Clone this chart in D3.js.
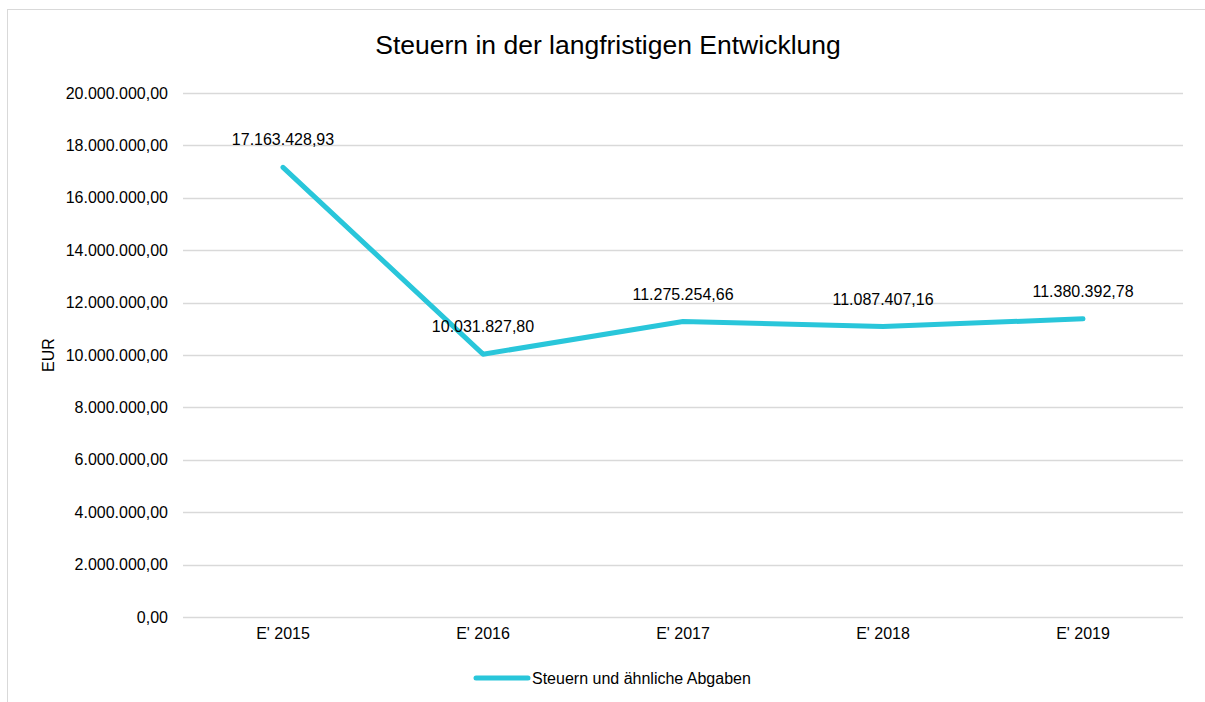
<!DOCTYPE html>
<html>
<head>
<meta charset="utf-8">
<script src="https://cdn.jsdelivr.net/npm/d3@7"></script>
<style>
  body { margin: 0; background: #fff; }
  svg, svg text { font-family: "Liberation Sans", Arial, sans-serif; }
</style>
</head>
<body>
<div id="chart"></div>
<script>
// data
const categories = ["E' 2015", "E' 2016", "E' 2017", "E' 2018", "E' 2019"];
const values = [17163428.93, 10031827.8, 11275254.66, 11087407.16, 11380392.78];
const yTicks = [0, 2e6, 4e6, 6e6, 8e6, 10e6, 12e6, 14e6, 16e6, 18e6, 20e6];
const seriesName = "Steuern und ähnliche Abgaben";

const W = 1205, H = 702;
const margin = { top: 93, right: 22, bottom: 85, left: 183 };
const lineColor = "#29c6da";

const de = d3.formatLocale({ decimal: ",", thousands: ".", grouping: [3], currency: ["", " €"] });
const fmt = de.format(",.2f");

const svg = d3.select("#chart").append("svg")
  .attr("width", W).attr("height", H);

// outer frame
svg.append("rect")
  .attr("x", 7.5).attr("y", 9.5)
  .attr("width", W).attr("height", H)
  .attr("fill", "none").attr("stroke", "#d9d9d9");

const x = d3.scaleBand().domain(categories).range([margin.left, W - margin.right]);
const y = d3.scaleLinear().domain([0, 20e6]).range([H - margin.bottom, margin.top]);

// gridlines
svg.append("g")
  .selectAll("line").data(yTicks).join("line")
  .attr("x1", margin.left).attr("x2", W - margin.right)
  .attr("y1", d => Math.round(y(d)) + 0.5).attr("y2", d => Math.round(y(d)) + 0.5)
  .attr("stroke", "#d9d9d9").attr("stroke-width", 1.5);

// y axis labels
const yAxis = svg.append("g")
  .attr("transform", `translate(${margin.left},0)`)
  .call(d3.axisLeft(y).tickValues(yTicks).tickFormat(fmt).tickSize(0).tickPadding(15));
yAxis.select(".domain").remove();
yAxis.attr("font-family", null).attr("font-size", 16);
yAxis.selectAll("text").attr("fill", "#000");

// x axis labels
const xAxis = svg.append("g")
  .attr("transform", `translate(0,${H - margin.bottom})`)
  .call(d3.axisBottom(x).tickSize(0).tickPadding(11));
xAxis.select(".domain").remove();
xAxis.attr("font-family", null).attr("font-size", 16);
xAxis.selectAll("text").attr("fill", "#000");

// line
const line = d3.line()
  .x((d, i) => x(categories[i]) + x.bandwidth() / 2)
  .y(d => y(d));

svg.append("path")
  .datum(values)
  .attr("d", line)
  .attr("fill", "none")
  .attr("stroke", lineColor)
  .attr("stroke-width", 5)
  .attr("stroke-linejoin", "round")
  .attr("stroke-linecap", "round");

// data labels
svg.append("g")
  .selectAll("text").data(values).join("text")
  .attr("x", (d, i) => x(categories[i]) + x.bandwidth() / 2)
  .attr("y", d => y(d) - 22)
  .attr("text-anchor", "middle")
  .attr("font-size", 16)
  .attr("fill", "#000")
  .text(d => fmt(d));

// title
svg.append("text")
  .attr("x", 608).attr("y", 54)
  .attr("text-anchor", "middle")
  .attr("font-size", 26.5)
  .attr("fill", "#000")
  .text("Steuern in der langfristigen Entwicklung");

// y label
svg.append("text")
  .attr("transform", `translate(54,${(margin.top + H - margin.bottom) / 2}) rotate(-90)`)
  .attr("text-anchor", "middle")
  .attr("font-size", 16)
  .attr("fill", "#000")
  .text("EUR");

// legend
const lg = svg.append("g").attr("transform", "translate(476,678)");
lg.append("line")
  .attr("x1", 0).attr("x2", 52)
  .attr("stroke", lineColor).attr("stroke-width", 5)
  .attr("stroke-linecap", "round");
lg.append("text")
  .attr("x", 56).attr("y", 5.5)
  .attr("font-size", 16)
  .attr("fill", "#000")
  .text(seriesName);
</script>
</body>
</html>
